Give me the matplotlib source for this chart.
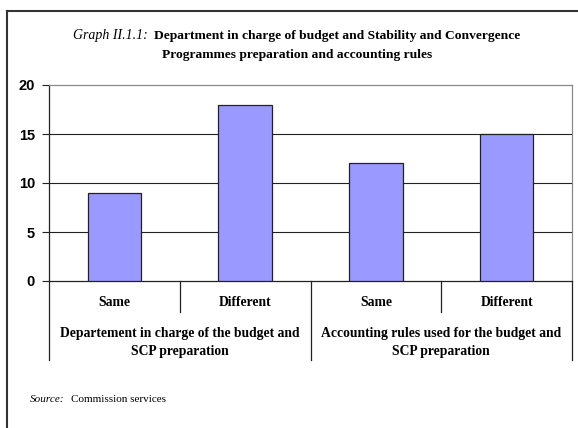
import matplotlib
matplotlib.use("Agg")
import matplotlib.pyplot as plt
from matplotlib.lines import Line2D
from matplotlib.transforms import blended_transform_factory

categories = ["Same", "Different", "Same", "Different"]
values = [9, 18, 12, 15]
groups = ["Departement in charge of the budget and\nSCP preparation",
          "Accounting rules used for the budget and\nSCP preparation"]
y_ticks = [0, 5, 10, 15, 20]

W, H = 578, 428
fig = plt.figure(figsize=(W / 100, H / 100), dpi=100)
fig.patch.set_facecolor("white")

serif = "Liberation Serif"
sans = "Liberation Sans"

# outer frame (top and left edges)
fig.add_artist(Line2D([7 / W, 7 / W], [0, 1 - 11 / H], transform=fig.transFigure,
                      color="#333333", lw=1.5))
fig.add_artist(Line2D([7 / W, 1], [1 - 11 / H, 1 - 11 / H], transform=fig.transFigure,
                      color="#333333", lw=1.5))

# title
fig.text(73 / W, 1 - 36 / H, "Graph II.1.1:", fontfamily=serif, fontstyle="italic",
         fontsize=10, va="center", ha="left")
fig.text(154 / W, 1 - 36 / H, "Department in charge of budget and Stability and Convergence",
         fontfamily=serif, fontweight="bold", fontsize=9.7, va="center", ha="left")
fig.text(297 / W, 1 - 55 / H, "Programmes preparation and accounting rules",
         fontfamily=serif, fontweight="bold", fontsize=9.7, va="center", ha="center")

ax = fig.add_axes([49 / W, 1 - 281 / H, (572 - 49) / W, (281 - 85) / H])
x = list(range(len(values)))
ax.bar(x, values, width=0.41, color="#9999FF", edgecolor="#222222", linewidth=0.9, zorder=3)
ax.set_xlim(-0.5, len(values) - 0.5)
ax.set_ylim(0, 20)
ax.set_yticks(y_ticks)
ax.set_yticklabels([str(v) for v in y_ticks], fontfamily=sans, fontweight="bold", fontsize=10.5)
ax.tick_params(axis="y", direction="out", length=5, width=0.8, color="#222222", pad=5)
ax.set_xticks([])
for v in y_ticks[1:-1]:
    ax.axhline(v, color="#222222", lw=0.8, zorder=1)
for side in ("top", "right"):
    ax.spines[side].set_color("#888888")
    ax.spines[side].set_linewidth(0.9)
for side in ("left", "bottom"):
    ax.spines[side].set_color("#222222")
    ax.spines[side].set_linewidth(0.9)

# category dividers below the axis
tr = blended_transform_factory(ax.transData, ax.transAxes)
ph = 281 - 85
short_y = -(312 - 281) / ph
long_y = -(360 - 281) / ph
for i, xb in enumerate([-0.5, 0.5, 1.5, 2.5, 3.5]):
    yb = long_y if i % 2 == 0 else short_y
    ax.add_line(Line2D([xb, xb], [0, yb], transform=tr, color="#222222", lw=0.9, clip_on=False))

for xi, lab in zip(x, categories):
    ax.text(xi, -(303 - 281) / ph, lab, transform=tr, ha="center", va="center",
            fontfamily=serif, fontweight="bold", fontsize=9.8)
for gi, g in enumerate(groups):
    ax.text(0.5 + 2 * gi, -(342.5 - 281) / ph, g, transform=tr, ha="center", va="center",
            fontfamily=serif, fontweight="bold", fontsize=9.8, linespacing=1.55)

fig.text(30 / W, 1 - 399 / H, "Source:", fontfamily=serif, fontstyle="italic", fontsize=8,
         va="center", ha="left")
fig.text(71 / W, 1 - 399 / H, "Commission services", fontfamily=serif, fontsize=8,
         va="center", ha="left")

fig.savefig("out.png", dpi=100, facecolor="white")
